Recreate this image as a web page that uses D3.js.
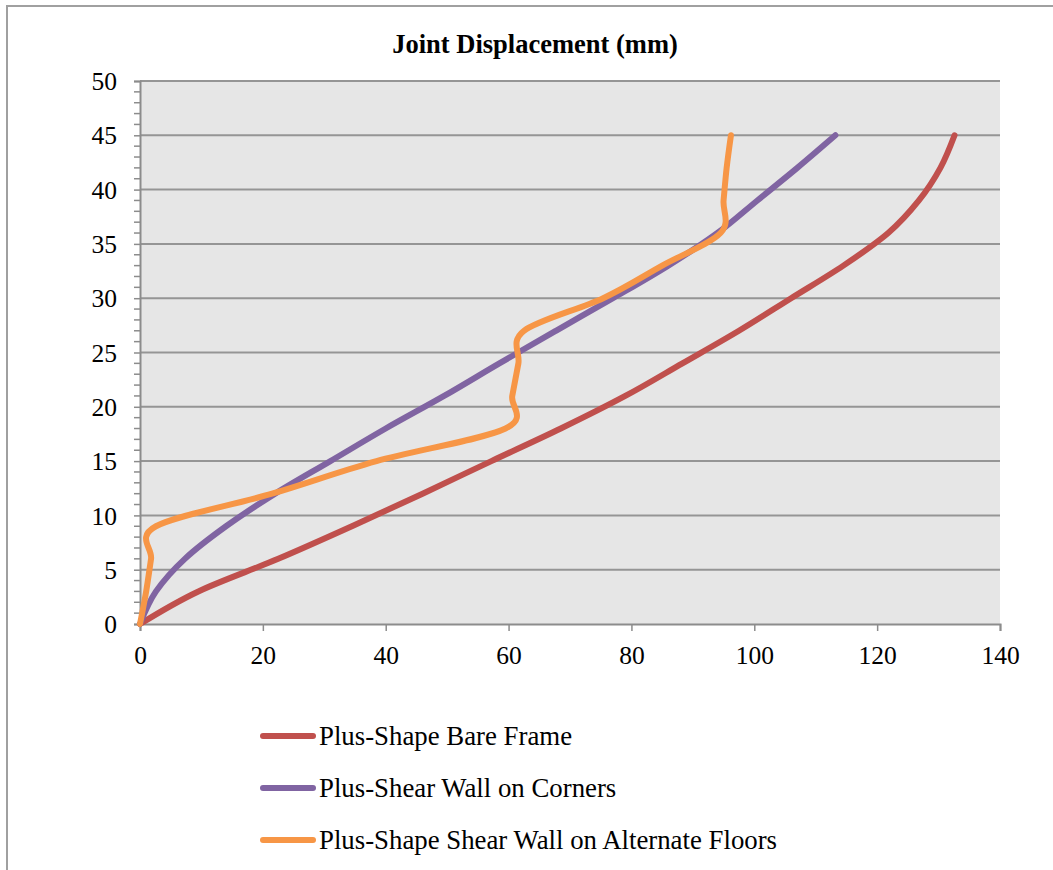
<!DOCTYPE html>
<html>
<head>
<meta charset="utf-8">
<script src="https://cdn.jsdelivr.net/npm/d3@7"></script>
<style>
  html, body { margin: 0; padding: 0; background: #fff; }
  svg { display: block; }
  text { font-family: "Liberation Serif", "Times New Roman", serif; fill: #000; }
</style>
</head>
<body>
<svg id="chart" width="1053" height="870"></svg>
<script>
// Storey height (m) at each floor level
const heights = [0, 3, 6, 9, 12, 15, 18, 21, 24, 27, 30, 33, 36, 39, 42, 45];

// Joint displacement (mm) per floor for each model
const bareFrame = [0, 9.5, 22.5, 34.5, 46, 57.2, 68.5, 79, 88.3, 97.5, 106, 114.5, 121.8, 126.8, 130.3, 132.6];
const cornerWalls = [0, 2.6, 7.3, 14, 22, 31, 40, 49.5, 58.5, 67.7, 77, 86, 94, 100.5, 107, 113.2];
const alternateWalls = [0, 1.0, 1.8, 2.6, 21.5, 38.5, 59.5, 60.6, 61.6, 62.5, 75.4, 85, 94.5, 95, 95.5, 96.2];

const seriesNames = [
  "Plus-Shape Bare Frame",
  "Plus-Shear Wall on Corners",
  "Plus-Shape Shear Wall on Alternate Floors"
];
const seriesColors = ["#C0504D", "#8064A2", "#F79646"];

const xTicks = [0, 20, 40, 60, 80, 100, 120, 140];
const yTicks = [0, 5, 10, 15, 20, 25, 30, 35, 40, 45, 50];
const yMinorTicks = d3.range(0, 50, 1).filter(v => v % 5 !== 0);

const titleText = "Joint Displacement (mm)";

const svg = d3.select("#chart");
const plot = { left: 140, right: 1000, top: 81, bottom: 624 };

const x = d3.scaleLinear().domain([0, 140]).range([plot.left, plot.right]);
const y = d3.scaleLinear().domain([0, 50]).range([plot.bottom, plot.top]);

// outer chart frame
svg.append("rect")
  .attr("x", 7).attr("y", 6)
  .attr("width", 1100).attr("height", 900)
  .attr("fill", "none").attr("stroke", "#a0a0a0").attr("stroke-width", 2);

// plot background
svg.append("rect")
  .attr("x", plot.left).attr("y", plot.top)
  .attr("width", plot.right - plot.left).attr("height", plot.bottom - plot.top)
  .attr("fill", "#e6e6e6");

// horizontal gridlines
svg.append("g").selectAll("line").data(yTicks.filter(v => v > 0)).join("line")
  .attr("x1", plot.left).attr("x2", plot.right)
  .attr("y1", d => y(d)).attr("y2", d => y(d))
  .attr("stroke", "#959595").attr("stroke-width", 2);

// y axis
const yAxis = svg.append("g").attr("transform", `translate(${plot.left},0)`)
  .call(d3.axisLeft(y).tickValues(yTicks).tickSize(6).tickPadding(17).tickFormat(d3.format("d")));
yAxis.append("g").selectAll("line").data(yMinorTicks).join("line")
  .attr("x1", -6).attr("x2", 0)
  .attr("y1", d => y(d)).attr("y2", d => y(d));

// x axis
const xAxis = svg.append("g").attr("transform", `translate(0,${plot.bottom})`)
  .call(d3.axisBottom(x).tickValues(xTicks).tickSize(7).tickPadding(14).tickFormat(d3.format("d")));

[yAxis, xAxis].forEach(ax => {
  ax.select(".domain").attr("stroke", "#8c8c8c").attr("stroke-width", 2);
  ax.selectAll("line").attr("stroke", "#8c8c8c").attr("stroke-width", 1.5);
  ax.selectAll("text").style("font-family", "'Liberation Serif', serif").style("font-size", "25.5px").attr("fill", "#000");
});
yAxis.selectAll(".tick text").attr("dy", "0.34em");
xAxis.selectAll(".tick text").attr("dy", "0.74em");

// title
svg.append("text")
  .attr("x", 535).attr("y", 53)
  .attr("text-anchor", "middle")
  .style("font-size", "26.5px").style("font-weight", "bold")
  .text(titleText);

// series curves
const allSeries = [bareFrame, cornerWalls, alternateWalls];
const line = d3.line()
  .x(d => x(d[0]))
  .y(d => y(d[1]))
  .curve(d3.curveCardinal.tension(0));

svg.append("g").selectAll("path").data(allSeries).join("path")
  .attr("d", vals => line(vals.map((v, i) => [v, heights[i]])))
  .attr("fill", "none")
  .attr("stroke", (d, i) => seriesColors[i])
  .attr("stroke-width", 6)
  .attr("stroke-linecap", "round")
  .attr("stroke-linejoin", "round");

// legend
const legend = svg.append("g").selectAll("g").data(seriesNames).join("g")
  .attr("transform", (d, i) => `translate(263,${736 + i * 52})`);
legend.append("line")
  .attr("x1", 0).attr("x2", 50).attr("y1", 0).attr("y2", 0)
  .attr("stroke", (d, i) => seriesColors[i])
  .attr("stroke-width", 6).attr("stroke-linecap", "round");
legend.append("text")
  .attr("x", 56).attr("y", 0).attr("dy", "0.33em")
  .style("font-size", "26.8px")
  .text(d => d);
</script>
</body>
</html>
